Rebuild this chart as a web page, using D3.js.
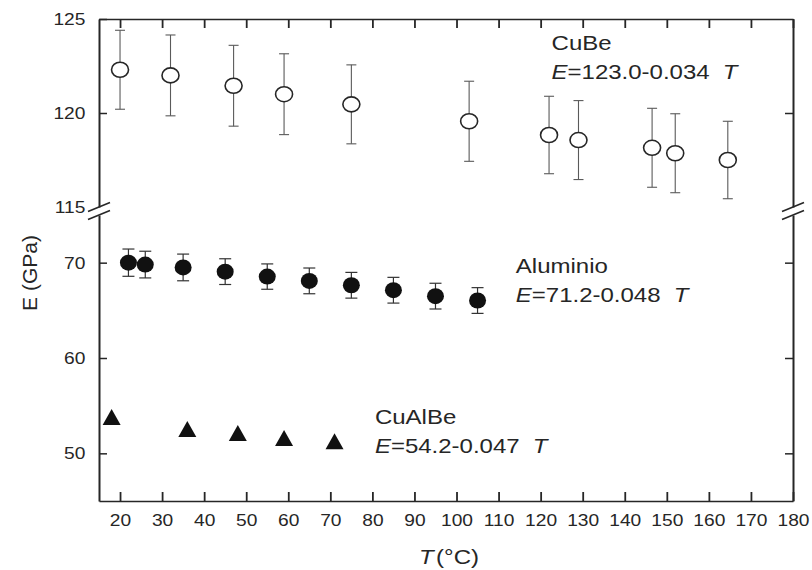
<!DOCTYPE html>
<html>
<head>
<meta charset="utf-8">
<script src="https://cdn.jsdelivr.net/npm/d3@7"></script>
<style>
  body { margin: 0; background: #fff; }
  svg { display: block; font-family: "Liberation Sans", Arial, sans-serif; }
</style>
</head>
<body>
<svg id="chart" width="812" height="570"></svg>
<script>
// Temperature ticks (°C)
const xTickValues = [20, 30, 40, 50, 60, 70, 80, 90, 100, 110, 120, 130, 140, 150, 160, 170, 180];
// Young's modulus ticks (GPa), upper and lower part of the broken axis
const yTicksUpper = [125, 120, 115];
const yTicksLower = [70, 60, 50];

// CuBe: open circles with error bars
const cubeT   = [20, 32, 47, 59, 75, 103, 122, 129, 146.5, 152, 164.5];
const cubeE   = [122.3, 122.0, 121.45, 121.0, 120.46, 119.56, 118.83, 118.56, 118.15, 117.86, 117.5];
const cubeErr = [2.1, 2.15, 2.15, 2.15, 2.1, 2.13, 2.06, 2.1, 2.1, 2.1, 2.06];

// Aluminio: filled circles with error bars
const alT   = [22, 26, 35, 45, 55, 65, 75, 85, 95, 105];
const alE   = [70.0, 69.8, 69.5, 69.06, 68.54, 68.09, 67.63, 67.11, 66.49, 66.03];
const alErr = [1.43, 1.4, 1.4, 1.35, 1.33, 1.35, 1.35, 1.35, 1.35, 1.35];

// CuAlBe: filled triangles
const cualbeT = [18, 36, 48, 59, 71];
const cualbeE = [53.8, 52.54, 52.12, 51.6, 51.26];

// Annotation text
const seriesNames = ["CuBe", "Aluminio", "CuAlBe"];
const fitLaws = ["=123.0-0.034", "=71.2-0.048", "=54.2-0.047"];

const svg = d3.select("#chart");
const ink = "#262626";
const SX_TICK = 1.13;   // horizontal stretch of tick text
const SX_TEXT = 1.2;    // horizontal stretch of annotation text

const x   = d3.scaleLinear().domain([15, 180]).range([99, 793]);
const yUp = d3.scaleLinear().domain([115, 125]).range([207, 19]);
const yLo = d3.scaleLinear().domain([45, 75]).range([501, 215]);

function styleAxis(g, vertical) {
  g.select(".domain").attr("stroke", ink).attr("stroke-width", vertical ? 2 : 1.6);
  g.selectAll(".tick line").attr("stroke", ink).attr("stroke-width", vertical ? 1.5 : 1.8);
  g.selectAll(".tick text")
    .attr("fill", ink)
    .style("font-size", "17px")
    .attr("transform", `scale(${SX_TICK},1)`);
}

// bottom axis
const gBottom = svg.append("g")
  .attr("transform", `translate(0,${yLo(45)})`)
  .call(d3.axisBottom(x).tickValues(xTickValues).tickSize(-9).tickSizeOuter(0)
        .tickPadding(13).tickFormat(d3.format("d")));
styleAxis(gBottom, false);

// top axis
const gTop = svg.append("g")
  .attr("transform", `translate(0,${yUp(125)})`)
  .call(d3.axisTop(x).tickValues(xTickValues).tickSize(-9).tickSizeOuter(0).tickFormat(() => ""));
styleAxis(gTop, false);

// left axis, upper and lower segments
const gLeftUp = svg.append("g")
  .attr("transform", `translate(${x(15)},0)`)
  .call(d3.axisLeft(yUp).tickValues(yTicksUpper).tickSize(-8).tickSizeOuter(0).tickPadding(12));
styleAxis(gLeftUp, true);
gLeftUp.selectAll(".tick").filter(d => d === 115).select("line").remove();

const gLeftLo = svg.append("g")
  .attr("transform", `translate(${x(15)},0)`)
  .call(d3.axisLeft(yLo).tickValues(yTicksLower).tickSize(-8).tickSizeOuter(0).tickPadding(12));
styleAxis(gLeftLo, true);

// right axis, upper and lower segments
const gRightUp = svg.append("g")
  .attr("transform", `translate(${x(180)},0)`)
  .call(d3.axisRight(yUp).tickValues([120]).tickSize(-8).tickSizeOuter(0).tickFormat(() => ""));
styleAxis(gRightUp, true);

const gRightLo = svg.append("g")
  .attr("transform", `translate(${x(180)},0)`)
  .call(d3.axisRight(yLo).tickValues(yTicksLower).tickSize(-8).tickSizeOuter(0).tickFormat(() => ""));
styleAxis(gRightLo, true);

// break marks on both vertical axes
const breaks = svg.append("g").attr("stroke", ink).attr("stroke-width", 1.6);
[x(15), x(180)].forEach(cx => {
  [yUp(115), yLo(75)].forEach(cy => {
    breaks.append("line")
      .attr("x1", cx - 11).attr("y1", cy + 4.5)
      .attr("x2", cx + 11).attr("y2", cy - 4.5);
  });
});

// error bars
function errorBars(ts, es, errs, y, color, width, cap) {
  const g = svg.append("g").attr("stroke", color).attr("stroke-width", width).attr("fill", "none");
  ts.forEach((t, i) => {
    const cx = x(t), y1 = y(es[i] + errs[i]), y2 = y(es[i] - errs[i]);
    g.append("line").attr("x1", cx).attr("x2", cx).attr("y1", y1).attr("y2", y2);
    g.append("line").attr("x1", cx - cap).attr("x2", cx + cap).attr("y1", y1).attr("y2", y1);
    g.append("line").attr("x1", cx - cap).attr("x2", cx + cap).attr("y1", y2).attr("y2", y2);
  });
}

errorBars(cubeT, cubeE, cubeErr, yUp, "#5a5a5a", 1.1, 5);
errorBars(alT, alE, alErr, yLo, "#333", 1.2, 6);

// CuBe open circles
svg.append("g").selectAll("ellipse").data(cubeT).join("ellipse")
  .attr("cx", d => x(d))
  .attr("cy", (d, i) => yUp(cubeE[i]))
  .attr("rx", 8.5).attr("ry", 7.5)
  .attr("fill", "#fff").attr("stroke", ink).attr("stroke-width", 1.6);

// Aluminio filled circles
svg.append("g").selectAll("ellipse").data(alT).join("ellipse")
  .attr("cx", d => x(d))
  .attr("cy", (d, i) => yLo(alE[i]))
  .attr("rx", 8.5).attr("ry", 8)
  .attr("fill", "#111");

// CuAlBe triangles
svg.append("g").selectAll("path").data(cualbeT).join("path")
  .attr("transform", (d, i) => `translate(${x(d)},${yLo(cualbeE[i])})`)
  .attr("d", "M0,-8L9,8L-9,8Z")
  .attr("fill", "#111");

// series annotations
function annotate(px, py, name, law) {
  const g = svg.append("g").attr("fill", ink).style("font-size", "20px");
  g.append("text")
    .attr("transform", `translate(${px},${py}) scale(${SX_TEXT},1)`)
    .text(name);
  const t = g.append("text")
    .attr("transform", `translate(${px},${py + 29}) scale(${SX_TEXT},1)`);
  t.append("tspan").style("font-style", "italic").text("E");
  t.append("tspan").text(law);
  t.append("tspan").attr("dx", 11).style("font-style", "italic").text("T");
}

annotate(x(122.6), yUp(123.35), seriesNames[0], fitLaws[0]);
annotate(x(114.1), yLo(68.9), seriesNames[1], fitLaws[1]);
annotate(x(80.6), yLo(53.1), seriesNames[2], fitLaws[2]);

// axis titles
svg.append("text")
  .attr("transform", `translate(29,${(yUp(125) + yLo(45)) / 2 + 13}) rotate(-90)`)
  .attr("text-anchor", "middle")
  .attr("dominant-baseline", "central")
  .attr("fill", ink)
  .style("font-size", "21px")
  .text("E (GPa)");

const xt = svg.append("text")
  .attr("transform", `translate(${(x(15) + x(180)) / 2 + 3},564) scale(${SX_TEXT},1)`)
  .attr("text-anchor", "middle")
  .attr("fill", ink)
  .style("font-size", "20px");
xt.append("tspan").style("font-style", "italic").text("T");
xt.append("tspan").attr("dx", 2).text("(°C)");
</script>
</body>
</html>
